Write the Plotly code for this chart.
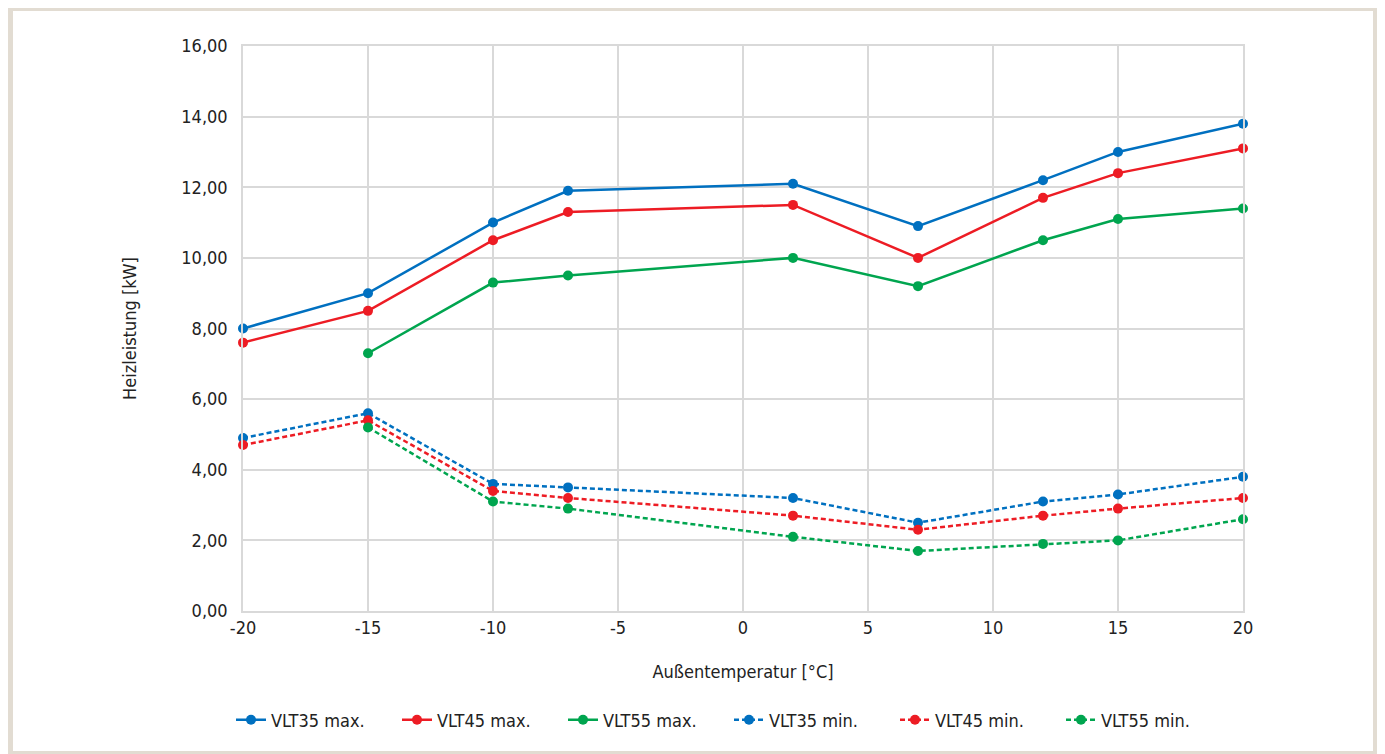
import plotly.graph_objects as go

# Außentemperatur [°C]
temps = [-20, -15, -10, -7, 2, 7, 12, 15, 20]

# Heizleistung [kW]
vlt35_max = [8.0, 9.0, 11.0, 11.9, 12.1, 10.9, 12.2, 13.0, 13.8]
vlt45_max = [7.6, 8.5, 10.5, 11.3, 11.5, 10.0, 11.7, 12.4, 13.1]
vlt55_max = [None, 7.3, 9.3, 9.5, 10.0, 9.2, 10.5, 11.1, 11.4]
vlt35_min = [4.9, 5.6, 3.6, 3.5, 3.2, 2.5, 3.1, 3.3, 3.8]
vlt45_min = [4.7, 5.4, 3.4, 3.2, 2.7, 2.3, 2.7, 2.9, 3.2]
vlt55_min = [None, 5.2, 3.1, 2.9, 2.1, 1.7, 1.9, 2.0, 2.6]

x_ticks = [-20, -15, -10, -5, 0, 5, 10, 15, 20]
x_labels = ['-20', '-15', '-10', '-5', '0', '5', '10', '15', '20']

BLUE = '#0070c0'
RED = '#ed1c24'
GREEN = '#00a54f'
FONT = 'DejaVu Sans Condensed, Roboto Condensed, Roboto, Arial, sans-serif'

series = [
    ('VLT35 max.', vlt35_max, BLUE, 'solid'),
    ('VLT45 max.', vlt45_max, RED, 'solid'),
    ('VLT55 max.', vlt55_max, GREEN, 'solid'),
    ('VLT35 min.', vlt35_min, BLUE, '5px,3px'),
    ('VLT45 min.', vlt45_min, RED, '5px,3px'),
    ('VLT55 min.', vlt55_min, GREEN, '5px,3px'),
]

fig = go.Figure()
for name, vals, color, dash in series:
    fig.add_trace(go.Scatter(x=temps, y=vals, name=name, mode='lines+markers',
                             line=dict(color=color, width=2.5, dash=dash),
                             marker=dict(color=color, size=10),
                             cliponaxis=False, connectgaps=False))

# the page puts the figure 8px in from the corner, so targets are shifted by OFF
OFF = 8
W, L, T, H = 1000, 243 - OFF, 46 - OFF, 565
def px(X):
    return (X - OFF - L) / W
def py(Y):
    return (T + H - (Y - OFF)) / H

# beige frame around the chart
fig.add_shape(type='rect', xref='paper', yref='paper', layer='below',
              x0=px(5), x1=px(1400), y0=py(3), y1=py(770),
              fillcolor='#e2dcd2', line=dict(width=0))
fig.add_shape(type='rect', xref='paper', yref='paper', layer='below',
              x0=px(13), x1=px(1373), y0=py(11), y1=py(751),
              fillcolor='white', line=dict(width=0))

grid = '#d9d9d9'
fig.update_xaxes(range=[-20, 20], tickvals=x_ticks, ticktext=x_labels,
                 showgrid=True, gridcolor=grid, gridwidth=1.5, zeroline=False,
                 showline=True, linecolor=grid, linewidth=1.5, mirror=True,
                 ticks='', tickfont=dict(size=18, color='#222'),
                 title=dict(text='Außentemperatur [°C]', font=dict(size=18, color='#222'), standoff=28))
fig.update_yaxes(range=[0, 16], dtick=2, tickformat='.2f',
                 showgrid=True, gridcolor=grid, gridwidth=1.5, zeroline=False,
                 showline=True, linecolor=grid, linewidth=1.5, mirror=True,
                 ticks='', ticklabelstandoff=10, tickfont=dict(size=18, color='#222'),
                 title=dict(text='Heizleistung [kW]', font=dict(size=18, color='#222'), standoff=40))

fig.update_layout(width=1385, height=754, separators=',.',
                  margin=dict(l=L, r=1385 - L - W, t=T, b=754 - T - H, autoexpand=False),
                  paper_bgcolor='white', plot_bgcolor='white',
                  font=dict(family=FONT, size=18, color='#222'),
                  legend=dict(orientation='h', xref='container', x=(729 - OFF) / 1385, xanchor='center',
                              y=py(720), yanchor='middle', entrywidth=121,
                              font=dict(size=18, color='#222'), bgcolor='rgba(0,0,0,0)'))

fig.write_html('out.html')
